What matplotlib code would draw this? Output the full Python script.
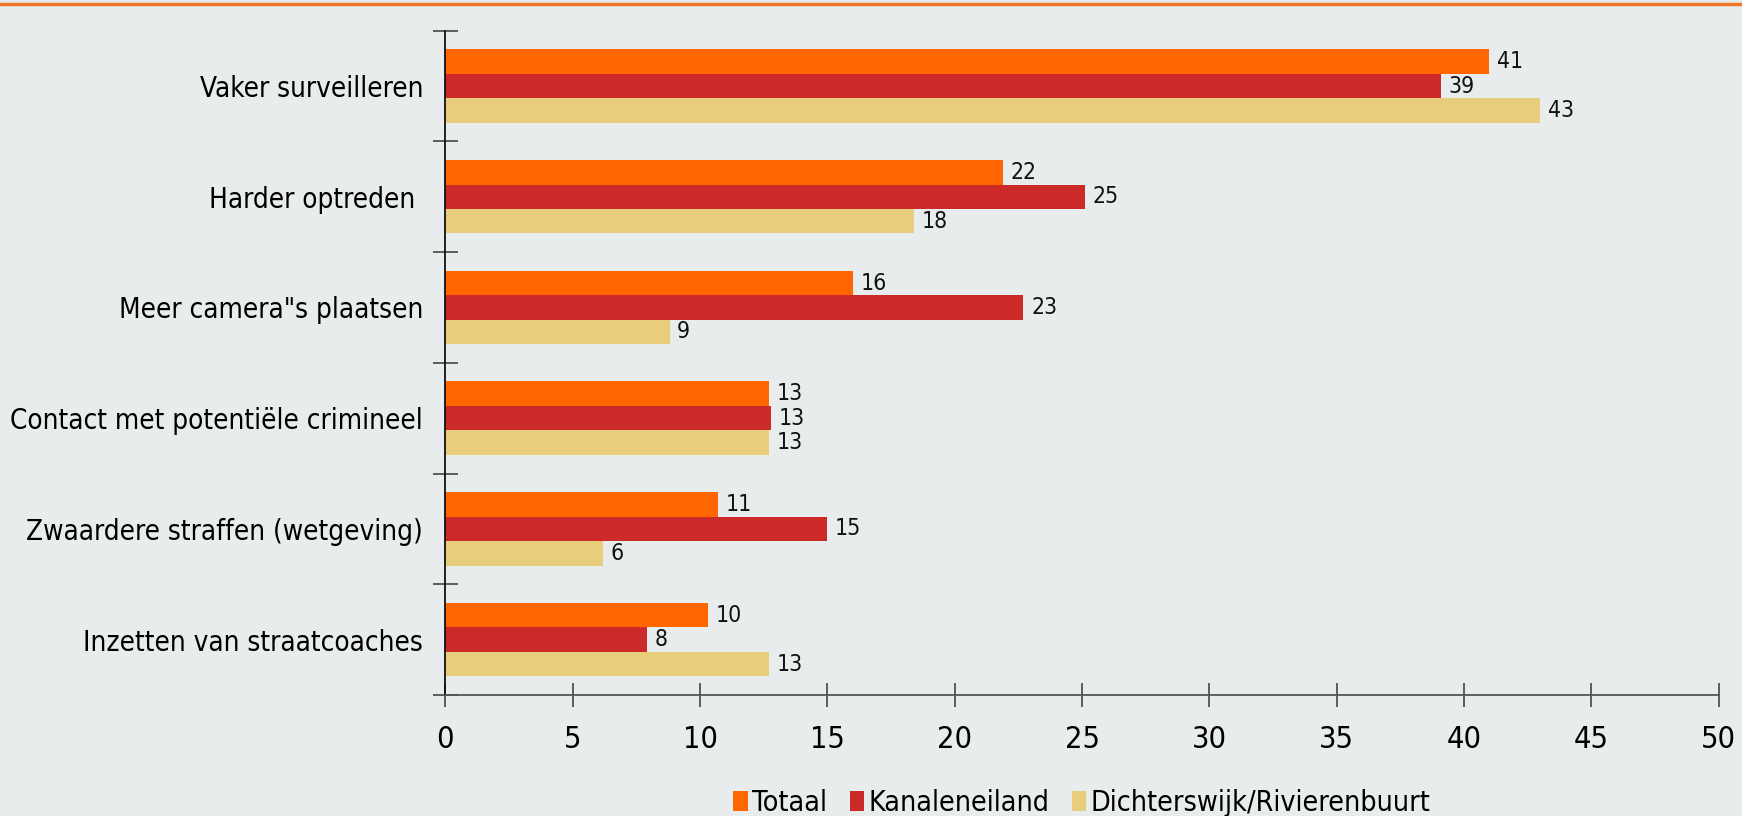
import matplotlib.pyplot as plt
from matplotlib.lines import Line2D
import numpy as np

# data
categories = ["Vaker surveilleren", "Harder optreden ", "Meer camera\"s plaatsen",
              "Contact met potentiële crimineel", "Zwaardere straffen (wetgeving)",
              "Inzetten van straatcoaches"]
series_names = ["Totaal", "Kanaleneiland", "Dichterswijk/Rivierenbuurt"]
totaal = [41.0, 21.9, 16.0, 12.7, 10.7, 10.3]
kanaleneiland = [39.1, 25.1, 22.7, 12.8, 15.0, 7.9]
dichterswijk = [43.0, 18.4, 8.8, 12.7, 6.2, 12.7]
colors = ["#FF6600", "#CC2929", "#E8CD7A"]

plt.rcParams['font.family'] = ['DejaVu Sans']
plt.rcParams['font.stretch'] = 'condensed'
bg = "#E9ECED"

fig = plt.figure(figsize=(17.42, 8.16), dpi=100, facecolor=bg)
ax = fig.add_axes([0.2557, 0.1483, 0.7309, 0.8141], facecolor=bg)

y = np.arange(len(categories))
h = 0.221
for i, (vals, name) in enumerate(zip([totaal, kanaleneiland, dichterswijk], series_names)):
    pos = y + (i - 1) * h
    ax.barh(pos, vals, height=h, color=colors[i], label=name, zorder=2)
    for p, v in zip(pos, vals):
        ax.text(v + 0.3, p, f"{v:.0f}", va='center', ha='left', fontsize=16.5, color='#111')

ax.set_xlim(0, 50)
ax.set_ylim(len(categories) - 0.5, -0.5)
ax.set_xticks(np.arange(0, 51, 5))
ax.tick_params(axis='x', direction='inout', length=17, width=1.2, color='#444',
               labelsize=22, pad=13)

# category boundaries as major ticks, names on minor ticks
ax.set_yticks(np.arange(-0.5, len(categories), 1))
ax.set_yticklabels([])
ax.set_yticks(y, minor=True)
ax.set_yticklabels(categories, minor=True, fontsize=20)
ax.tick_params(axis='y', which='major', direction='inout', length=18, width=1.2, color='#444')
ax.tick_params(axis='y', which='minor', length=0, pad=16)

for s in ['top', 'right']:
    ax.spines[s].set_visible(False)
ax.spines['left'].set_color('#111')
ax.spines['left'].set_linewidth(1.3)
ax.spines['bottom'].set_color('#555')
ax.spines['bottom'].set_linewidth(1.3)

fig.legend(loc='center', bbox_to_anchor=(0.621, 0.016), ncol=3, frameon=False,
           fontsize=20.5, handlelength=0.5, handleheight=0.7, handletextpad=0.15,
           columnspacing=0.8)

fig.add_artist(Line2D([0, 1], [0.9955, 0.9955], transform=fig.transFigure,
                      color='#F07828', linewidth=2.5))

fig.savefig('out.png', dpi=100, facecolor=bg)
